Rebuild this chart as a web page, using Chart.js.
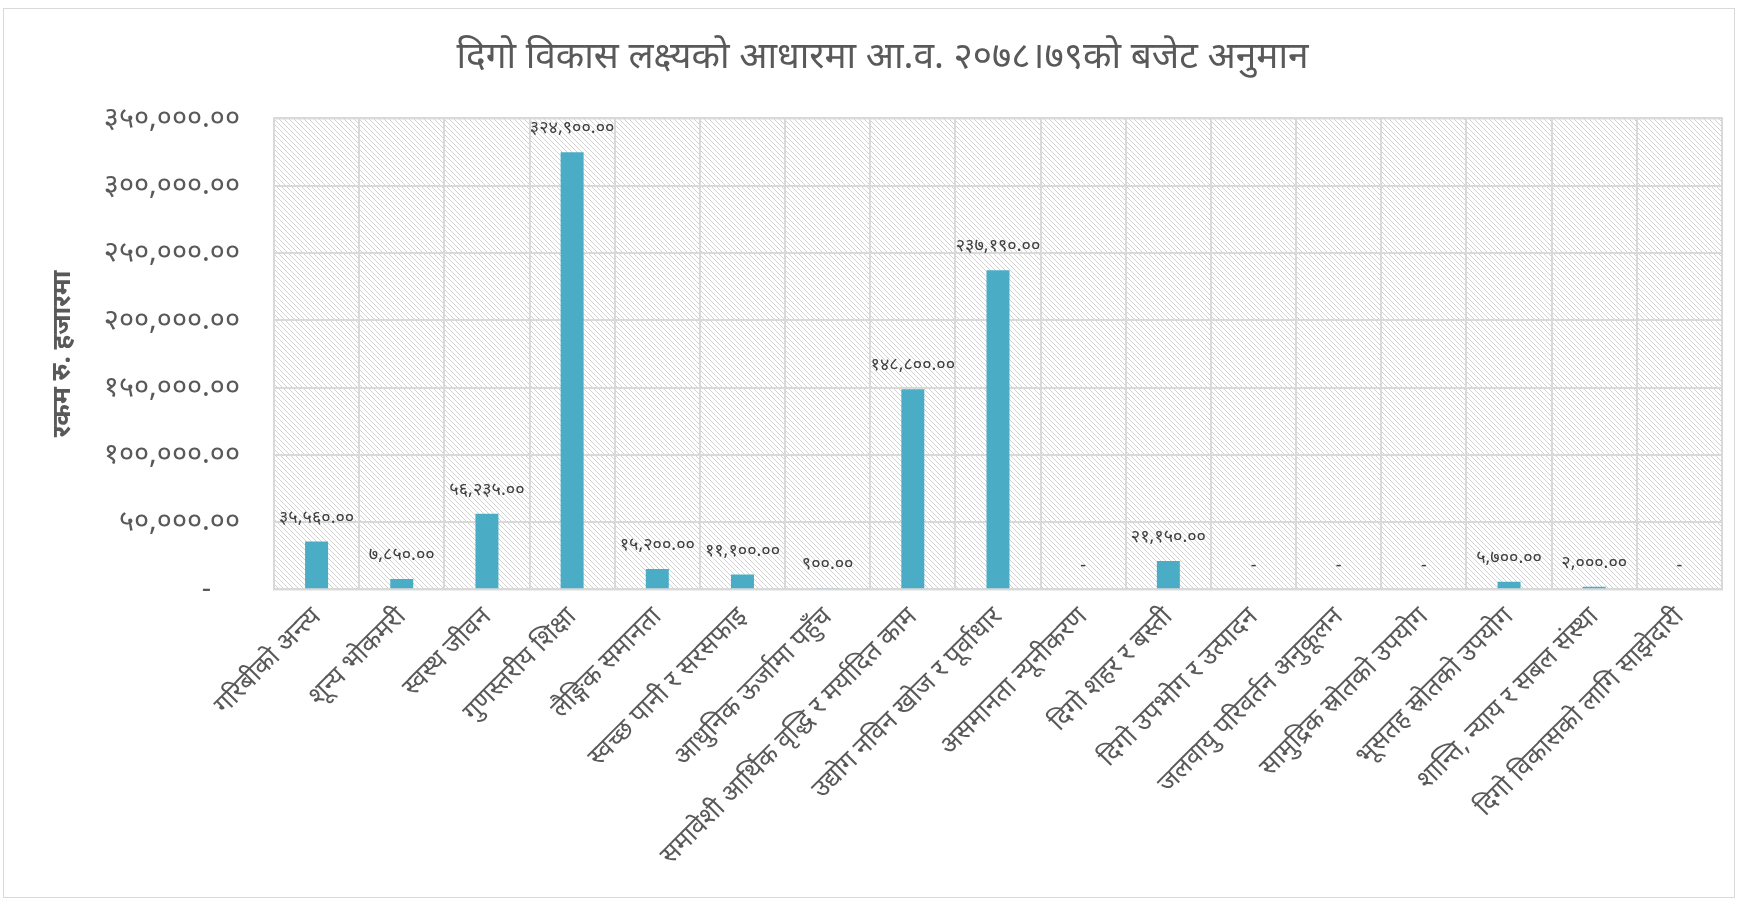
<!DOCTYPE html>
<html>
<head>
<meta charset="utf-8">
<script src="https://cdn.jsdelivr.net/npm/chart.js@4"></script>
<style>
  body { margin: 0; background: #fff; }
  #wrap { position: relative; width: 1739px; height: 904px; }
  #frame { position: absolute; left: 3px; top: 8px; width: 1732px; height: 890px; border: 1px solid #d9d9d9; box-sizing: border-box; pointer-events: none; }
</style>
</head>
<body>
<div id="wrap">
  <canvas id="chart" width="1739" height="904"></canvas>
  <div id="frame"></div>
</div>
<script>
// SDG-wise budget estimate, FY 2078/79 (Rs. thousands)
const categories = [
    'गरिबीको अन्त्य',
    'शून्य भोकमरी',
    'स्वस्थ जीवन',
    'गुणस्तरीय शिक्षा',
    'लैङ्गिक समानता',
    'स्वच्छ पानी र सरसफाइ',
    'आधुनिक ऊर्जामा पहुँच',
    'समावेशी आर्थिक वृद्धि र मर्यादित काम',
    'उद्योग नविन खोज र पूर्वाधार',
    'असमानता न्यूनीकरण',
    'दिगो शहर र बस्ती',
    'दिगो उपभोग र उत्पादन',
    'जलवायु परिवर्तन अनुकूलन',
    'सामुद्रिक स्रोतको उपयोग',
    'भूसतह स्रोतको उपयोग',
    'शान्ति, न्याय र सबल संस्था',
    'दिगो विकासको लागि साझेदारी'
];
const budget = [35560, 7850, 56235, 324900, 15200, 11100, 900, 148800, 237190, 0, 21150, 0, 0, 0, 5700, 2000, 0];
const yTicks = [0, 50000, 100000, 150000, 200000, 250000, 300000, 350000];

const chartTitle = 'दिगो विकास लक्ष्यको आधारमा आ.व. २०७८।७९को बजेट अनुमान';
const yTitle = 'रकम रु. हजारमा';

const FONT = '"Noto Sans", "Noto Sans Devanagari", sans-serif';
const devDigits = '०१२३४५६७८९';

function toNepali(v) {
    if (v === 0) return '-';
    const s = v.toLocaleString('en-US', { minimumFractionDigits: 2, maximumFractionDigits: 2 });
    return s.replace(/\d/g, d => devDigits[d]);
}

function makeHatch() {
    const c = document.createElement('canvas');
    c.width = 5;
    c.height = 5;
    const g = c.getContext('2d');
    g.fillStyle = '#ffffff';
    g.fillRect(0, 0, 5, 5);
    g.strokeStyle = '#d2d2d2';
    g.lineWidth = 1;
    g.beginPath();
    g.moveTo(0, 0); g.lineTo(5, 5);
    g.moveTo(-2.5, 2.5); g.lineTo(2.5, 7.5);
    g.moveTo(2.5, -2.5); g.lineTo(7.5, 2.5);
    g.stroke();
    return c;
}

const hatchBackground = {
    id: 'hatchBackground',
    beforeDraw(chart) {
        const { ctx, chartArea: a } = chart;
        ctx.save();
        ctx.fillStyle = ctx.createPattern(makeHatch(), 'repeat');
        ctx.fillRect(a.left, a.top, a.right - a.left, a.bottom - a.top);
        ctx.restore();
    },
    afterDraw(chart) {
        const { ctx, chartArea: a } = chart;
        ctx.save();
        ctx.strokeStyle = '#d9d9d9';
        ctx.lineWidth = 2;
        ctx.strokeRect(a.left, a.top, a.right - a.left, a.bottom - a.top);
        ctx.restore();
    }
};

const valueLabels = {
    id: 'valueLabels',
    afterDatasetsDraw(chart) {
        const { ctx } = chart;
        const meta = chart.getDatasetMeta(0);
        ctx.save();
        ctx.font = '18px ' + FONT;
        ctx.fillStyle = '#404040';
        ctx.textAlign = 'center';
        ctx.textBaseline = 'middle';
        meta.data.forEach((bar, i) => {
            ctx.fillText(toNepali(budget[i]), bar.x, bar.y - 24);
        });
        ctx.restore();
    }
};

new Chart(document.getElementById('chart'), {
    type: 'bar',
    data: {
        labels: categories,
        datasets: [{
            label: yTitle,
            data: budget,
            backgroundColor: '#4bacc6',
            barPercentage: 0.5,
            categoryPercentage: 0.54
        }]
    },
    options: {
        responsive: false,
        animation: false,
        layout: { padding: { left: 26, right: 0, top: 12, bottom: 21 } },
        scales: {
            x: {
                afterFit(scale) {
                    scale.paddingLeft = 0;
                    scale.paddingRight = 17;
                },
                grid: { color: '#d9d9d9', lineWidth: 2, drawTicks: false },
                border: { display: false },
                ticks: {
                    color: '#595959',
                    font: { family: FONT, size: 26 },
                    maxRotation: 45,
                    minRotation: 45,
                    padding: 12,
                    autoSkip: false
                }
            },
            y: {
                min: 0,
                max: 350000,
                afterBuildTicks(axis) {
                    axis.ticks = yTicks.map(v => ({ value: v }));
                },
                afterFit(scale) {
                    scale.width = 248;
                },
                grid: { color: '#d9d9d9', lineWidth: 2, drawTicks: false },
                border: { display: false },
                ticks: {
                    color: '#595959',
                    font: { family: FONT, size: 29 },
                    padding: 34,
                    // zero shows as a dash set in from the digits, accounting style
                    callback: v => v === 0 ? '-\u2002\u2002' : toNepali(v)
                },
                title: {
                    display: true,
                    text: yTitle,
                    color: '#595959',
                    font: { family: FONT, size: 26, weight: 'bold' },
                    padding: { top: 21, bottom: 10 }
                }
            }
        },
        plugins: {
            legend: { display: false },
            tooltip: { enabled: false },
            title: {
                display: true,
                text: chartTitle,
                color: '#595959',
                font: { family: FONT, size: 37, weight: 'normal' },
                padding: { top: 23, bottom: 39 }
            }
        }
    },
    plugins: [hatchBackground, valueLabels]
});
</script>
</body>
</html>
